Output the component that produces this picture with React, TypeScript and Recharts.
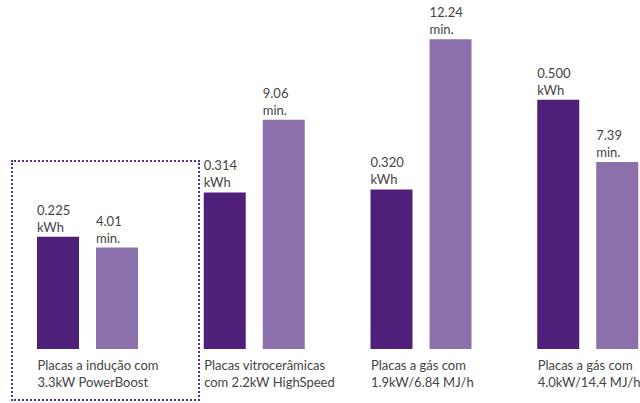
import { BarChart, Bar, XAxis, YAxis, LabelList } from "recharts";

const categories = ["induction", "ceramic", "gas1", "gas2"];
const titleLine1 = [
  "Placas a indução com",
  "Placas vitrocerâmicas",
  "Placas a gás com",
  "Placas a gás com",
];
const titleLine2 = [
  "3.3kW PowerBoost",
  "com 2.2kW HighSpeed",
  "1.9kW/6.84 MJ/h",
  "4.0kW/14.4 MJ/h",
];
const energyKwh = [0.225, 0.314, 0.32, 0.5];
const timeMin = [4.01, 9.06, 12.24, 7.39];

const data = categories.map((c, i) => ({
  name: c,
  kwh: energyKwh[i],
  min: timeMin[i],
}));

const DARK = "#4f2079";
const LIGHT = "#8c70ac";
const TEXT = "#444444";
const FONT = "Lato, 'Liberation Sans', sans-serif";

const CategoryTick = (props: any) => {
  const { x, y, payload } = props;
  const i = payload.index;
  return (
    <text x={x - 50} y={y} fill={TEXT} fontSize={13} fontFamily={FONT} textAnchor="start">
      <tspan x={x - 50} dy={13}>{titleLine1[i]}</tspan>
      <tspan x={x - 50} dy={17}>{titleLine2[i]}</tspan>
    </text>
  );
};

const valueLabel = (unit: string, digits: number) => (props: any) => {
  const { x, y, value } = props;
  return (
    <text x={x} y={y} fill={TEXT} fontSize={13} fontFamily={FONT} textAnchor="start">
      <tspan x={x} dy={-22}>{Number(value).toFixed(digits)}</tspan>
      <tspan x={x} dy={17}>{unit}</tspan>
    </text>
  );
};

export default function App() {
  return (
    <div style={{ position: "absolute", left: 0, top: 0, width: 640, height: 403, background: "#fff", overflow: "hidden" }}>
      <BarChart
        width={640}
        height={403}
        data={data}
        margin={{ top: 20, right: -31, left: 4, bottom: 0 }}
        barSize={42}
        barGap={17}
      >
        <XAxis
          dataKey="name"
          height={54}
          axisLine={false}
          tickLine={false}
          tick={<CategoryTick />}
          interval={0}
        />
        <YAxis yAxisId="kwh" hide domain={[0, 0.66]} />
        <YAxis yAxisId="min" hide domain={[0, 13]} />
        <Bar yAxisId="kwh" dataKey="kwh" fill={DARK} isAnimationActive={false}>
          <LabelList dataKey="kwh" content={valueLabel("kWh", 3)} />
        </Bar>
        <Bar yAxisId="min" dataKey="min" fill={LIGHT} isAnimationActive={false}>
          <LabelList dataKey="min" content={valueLabel("min.", 2)} />
        </Bar>
      </BarChart>
      <div
        style={{
          position: "absolute",
          left: 11,
          top: 160,
          width: 185,
          height: 237,
          border: "2px dotted #5b2c8f",
        }}
      />
    </div>
  );
}
